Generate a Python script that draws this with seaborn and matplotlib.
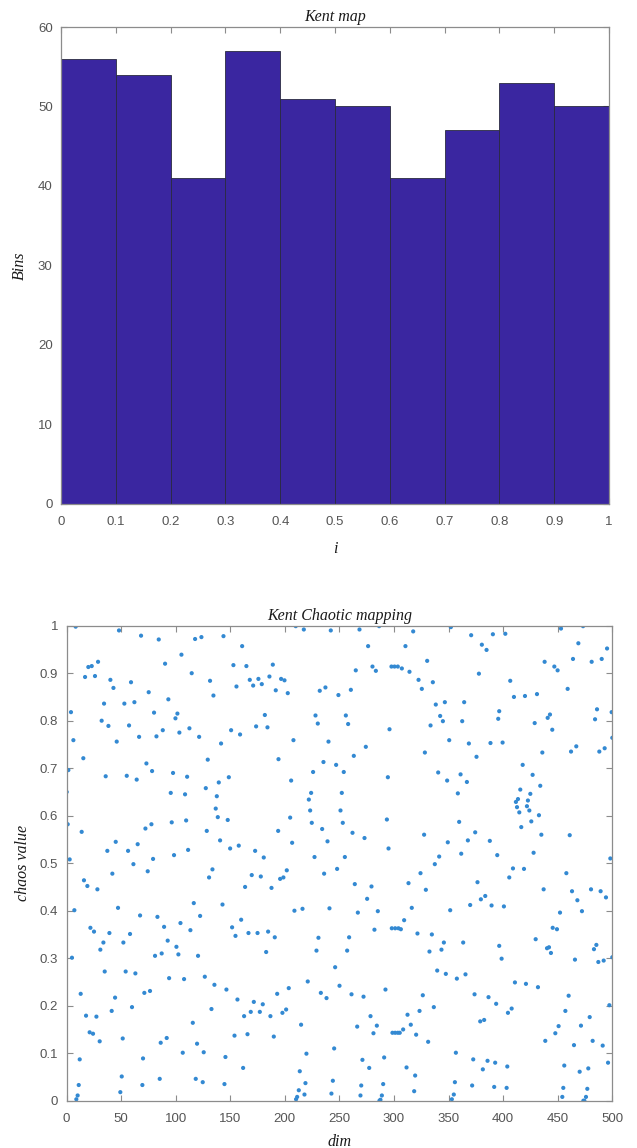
import matplotlib
matplotlib.use("Agg")
import matplotlib.pyplot as plt
import seaborn as sns
import numpy as np
import pandas as pd

# ---------------- data ----------------
bin_edges = [0, 0.1, 0.2, 0.3, 0.4, 0.5, 0.6, 0.7, 0.8, 0.9, 1.0]
bin_counts = [56, 54, 41, 57, 51, 50, 41, 47, 53, 50]

# scatter points (dim, chaos value), grouped by region
dim_a = [8.4, 48.1, 68.3, 84.5, 90.3, 20.0, 23.1, 28.9, 17.0, 26.1, 40.2, 59.1, 43.0, 75.3, 93.3, 34.4, 53.0, 62.2,
         4.1, 80.2, 32.2, 38.4, 57.3, 88.2, 82.4, 66.5, 6.3, 46.0, 15.4, 1.7, 73.2, 78.4, 35.9, 55.2, 64.3, 0.2, 1.1,
         13.9, 72.3, 77.8, 45.1, 65.2, 37.4, 56.4, 2.9, 61.3, 79.3]
val_a = [0.998, 0.990, 0.979, 0.971, 0.920, 0.913, 0.915, 0.924, 0.892, 0.894, 0.886, 0.881, 0.869, 0.860, 0.845,
         0.836, 0.836, 0.839, 0.818, 0.817, 0.800, 0.789, 0.790, 0.780, 0.767, 0.766, 0.759, 0.756, 0.721, 0.696,
         0.710, 0.694, 0.683, 0.684, 0.676, 0.650, 0.582, 0.566, 0.573, 0.582, 0.545, 0.540, 0.526, 0.526, 0.508,
         0.498, 0.509]

dim_b = [117.8, 123.6, 143.8, 160.9, 105.3, 152.9, 164.8, 189.0, 114.7, 131.5, 167.9, 175.8, 185.9, 171.0, 178.9,
         155.7, 191.7, 134.6, 101.6, 99.8, 181.7, 103.4, 112.6, 121.5, 150.8, 159.0, 173.7, 184.1, 141.6, 129.4,
         194.2, 97.6, 110.5, 139.5, 148.7, 95.5, 108.6, 127.6, 137.7, 136.7, 138.6, 147.7, 96.4, 109.6, 128.5, 193.9,
         140.7, 149.9, 157.8, 172.8, 180.7, 98.5, 111.4]
val_b = [0.972, 0.976, 0.978, 0.957, 0.939, 0.917, 0.915, 0.918, 0.900, 0.884, 0.886, 0.888, 0.893, 0.874, 0.877,
         0.872, 0.864, 0.853, 0.815, 0.805, 0.812, 0.775, 0.784, 0.766, 0.780, 0.771, 0.788, 0.786, 0.752, 0.718,
         0.719, 0.690, 0.682, 0.670, 0.681, 0.648, 0.645, 0.658, 0.641, 0.615, 0.597, 0.591, 0.586, 0.590, 0.568,
         0.568, 0.548, 0.531, 0.537, 0.526, 0.512, 0.517, 0.528]

dim_c = [210.0, 217.4, 242.1, 268.4, 286.4, 276.3, 265.0, 280.3, 283.4, 196.6, 199.7, 202.7, 232.0, 237.2, 249.1,
         260.5, 228.1, 255.9, 230.2, 258.0, 295.9, 207.9, 240.0, 274.2, 263.2, 235.4, 247.0, 225.9, 254.0, 205.8,
         294.4, 224.1, 252.2, 222.0, 223.2, 251.0, 204.9, 224.7, 253.1, 293.5, 234.2, 262.0, 273.0, 206.7, 239.1,
         295.0, 227.2, 255.0]
val_c = [0.999, 0.992, 0.990, 0.992, 0.999, 0.957, 0.906, 0.914, 0.905, 0.888, 0.885, 0.858, 0.863, 0.870, 0.854,
         0.865, 0.811, 0.811, 0.794, 0.793, 0.782, 0.759, 0.756, 0.745, 0.726, 0.713, 0.707, 0.692, 0.692, 0.674,
         0.681, 0.648, 0.648, 0.634, 0.611, 0.611, 0.596, 0.585, 0.585, 0.592, 0.572, 0.564, 0.553, 0.543, 0.546,
         0.531, 0.513, 0.513]

dim_d = [317.6, 352.1, 370.7, 390.6, 310.5, 380.5, 384.8, 330.4, 297.7, 300.5, 303.5, 307.2, 314.2, 377.8, 322.5,
         335.6, 325.5, 338.3, 346.6, 364.3, 396.4, 342.3, 344.8, 362.5, 395.5, 333.5, 350.6, 368.6, 388.4, 328.3,
         375.6, 340.5, 348.7, 361.0, 366.8, 358.5, 359.7, 327.6, 374.4, 349.3, 367.7, 387.8, 341.4, 361.6, 394.6]
val_d = [0.988, 0.997, 0.980, 0.982, 0.957, 0.960, 0.949, 0.926, 0.914, 0.914, 0.914, 0.910, 0.903, 0.899, 0.886,
         0.881, 0.867, 0.834, 0.839, 0.839, 0.820, 0.810, 0.799, 0.799, 0.804, 0.790, 0.759, 0.752, 0.753, 0.733,
         0.724, 0.691, 0.674, 0.687, 0.671, 0.647, 0.587, 0.560, 0.565, 0.544, 0.548, 0.547, 0.514, 0.520, 0.517]

dim_e = [402.0, 453.0, 473.2, 468.9, 495.2, 438.0, 446.9, 449.9, 464.0, 481.1, 490.3, 406.5, 459.1, 409.9, 420.0,
         431.0, 442.9, 440.8, 428.9, 445.0, 486.0, 484.2, 499.4, 500.0, 399.5, 435.9, 462.2, 467.0, 488.1, 493.0,
         417.9, 427.0, 434.0, 415.7, 424.9, 413.6, 411.7, 422.7, 412.7, 421.8, 424.0, 414.8, 432.8, 425.8, 416.6,
         435.0, 461.0, 427.9, 498.2]
val_e = [0.983, 0.994, 0.999, 0.963, 0.952, 0.924, 0.914, 0.906, 0.930, 0.924, 0.930, 0.884, 0.867, 0.850, 0.852,
         0.856, 0.813, 0.806, 0.795, 0.781, 0.824, 0.803, 0.818, 0.764, 0.754, 0.733, 0.735, 0.746, 0.735, 0.742,
         0.707, 0.686, 0.663, 0.655, 0.646, 0.635, 0.629, 0.632, 0.618, 0.620, 0.611, 0.607, 0.601, 0.588, 0.576,
         0.560, 0.559, 0.522, 0.510]

dim_f = [42.0, 74.4, 16.0, 19.1, 28.3, 7.2, 47.2, 67.4, 83.3, 21.9, 25.2, 39.3, 58.2, 89.4, 33.8, 52.1, 92.7, 31.0,
         5.0, 81.1, 87.2, 35.0, 54.2, 63.1, 94.0, 13.0, 71.3, 76.5, 44.5, 17.9, 27.4, 41.4, 60.0, 21.2, 24.3, 30.4,
         51.5, 86.3, 91.8, 12.1, 70.1, 50.6, 85.4, 11.2, 69.5, 10.2, 9.0, 49.3]
val_f = [0.478, 0.483, 0.464, 0.452, 0.445, 0.401, 0.406, 0.390, 0.387, 0.364, 0.356, 0.353, 0.351, 0.366, 0.333,
         0.333, 0.337, 0.318, 0.301, 0.305, 0.310, 0.272, 0.272, 0.268, 0.258, 0.225, 0.227, 0.231, 0.217, 0.179,
         0.177, 0.189, 0.197, 0.144, 0.141, 0.125, 0.131, 0.122, 0.132, 0.087, 0.089, 0.051, 0.046, 0.033, 0.033,
         0.011, 0.003, 0.018]

dim_g = [133.7, 130.6, 169.7, 178.0, 163.6, 187.8, 116.6, 142.9, 104.4, 122.4, 113.5, 160.0, 151.7, 154.8, 166.7,
         175.0, 184.7, 190.8, 100.7, 102.5, 120.5, 182.9, 107.7, 126.7, 135.5, 146.5, 156.6, 171.6, 179.8, 168.8,
         177.1, 162.7, 186.8, 193.0, 132.8, 115.7, 153.9, 165.8, 189.9, 119.6, 106.5, 125.7, 145.6, 161.8, 118.4,
         124.8, 144.7]
val_g = [0.487, 0.470, 0.475, 0.472, 0.450, 0.448, 0.416, 0.413, 0.374, 0.389, 0.359, 0.381, 0.365, 0.347, 0.353,
         0.353, 0.356, 0.344, 0.324, 0.308, 0.305, 0.313, 0.256, 0.261, 0.244, 0.234, 0.213, 0.208, 0.203, 0.187,
         0.187, 0.178, 0.178, 0.225, 0.193, 0.164, 0.137, 0.140, 0.135, 0.120, 0.101, 0.102, 0.092, 0.069, 0.046,
         0.039, 0.035]

dim_h = [201.8, 195.7, 198.7, 236.0, 247.9, 264.1, 279.4, 275.4, 208.8, 216.2, 240.9, 266.9, 285.2, 282.1, 230.8,
         258.9, 229.0, 257.1, 246.1, 221.0, 203.6, 233.0, 238.2, 250.1, 261.1, 272.1, 292.2, 197.8, 201.2, 214.9,
         278.5, 266.3, 284.3, 281.2, 219.8, 245.2, 271.1, 291.0, 213.7, 277.3, 218.9, 244.0, 212.8, 211.3, 210.3,
         218.0, 242.7, 270.0, 269.3, 290.1, 288.9, 287.6, 286.7]
val_h = [0.485, 0.467, 0.470, 0.478, 0.488, 0.456, 0.451, 0.425, 0.400, 0.404, 0.405, 0.396, 0.399, 0.360, 0.343,
         0.344, 0.316, 0.316, 0.281, 0.251, 0.237, 0.227, 0.216, 0.242, 0.224, 0.219, 0.234, 0.185, 0.192, 0.160,
         0.178, 0.156, 0.158, 0.142, 0.099, 0.110, 0.086, 0.091, 0.062, 0.069, 0.037, 0.042, 0.022, 0.008, 0.003,
         0.013, 0.015, 0.032, 0.011, 0.035, 0.011, 0.002, 0.000]

dim_i = [337.4, 324.3, 313.3, 329.2, 376.5, 379.6, 383.6, 389.4, 369.8, 351.5, 316.3, 309.3, 298.0, 301.1, 304.1,
         306.3, 321.5, 334.7, 345.7, 363.4, 332.5, 343.5, 396.4, 339.6, 347.5, 357.6, 365.5, 326.4, 336.5, 373.8,
         386.6, 393.6, 312.4, 323.4, 315.4, 298.6, 301.1, 303.5, 305.3, 308.4, 320.3, 331.3, 379.0, 382.6, 356.7,
         311.5, 319.4, 372.6, 385.7, 392.7, 381.4, 355.8, 371.6, 391.8, 318.5, 354.8, 353.0]
val_i = [0.498, 0.479, 0.458, 0.444, 0.460, 0.424, 0.431, 0.411, 0.412, 0.401, 0.406, 0.380, 0.363, 0.363, 0.363,
         0.361, 0.352, 0.350, 0.333, 0.333, 0.314, 0.318, 0.326, 0.274, 0.267, 0.257, 0.266, 0.222, 0.197, 0.224,
         0.218, 0.204, 0.181, 0.189, 0.160, 0.143, 0.143, 0.143, 0.143, 0.150, 0.139, 0.124, 0.167, 0.170, 0.101,
         0.070, 0.053, 0.087, 0.084, 0.080, 0.066, 0.039, 0.032, 0.029, 0.020, 0.013, 0.003]

dim_j = [409.0, 419.1, 405.6, 457.9, 437.1, 463.1, 480.5, 489.3, 494.2, 468.0, 472.2, 452.1, 400.7, 445.4, 449.3,
         429.8, 440.2, 442.0, 443.8, 485.4, 483.2, 398.6, 465.8, 487.2, 492.1, 500.0, 410.8, 420.9, 431.9, 460.0,
         404.4, 407.8, 457.0, 497.3, 479.3, 450.8, 447.8, 471.3, 438.6, 464.9, 482.0, 491.2, 403.8, 456.0, 470.1,
         478.0, 496.1, 403.2, 455.1, 477.1, 454.2, 475.9, 474.4, 473.5]
val_j = [0.489, 0.488, 0.470, 0.479, 0.445, 0.441, 0.445, 0.441, 0.428, 0.422, 0.399, 0.396, 0.409, 0.364, 0.361,
         0.340, 0.321, 0.323, 0.311, 0.328, 0.319, 0.299, 0.297, 0.292, 0.295, 0.302, 0.249, 0.246, 0.239, 0.221,
         0.185, 0.194, 0.189, 0.201, 0.176, 0.157, 0.142, 0.158, 0.126, 0.117, 0.126, 0.116, 0.072, 0.074, 0.061,
         0.068, 0.080, 0.027, 0.027, 0.025, 0.008, 0.008, 0.000, 0.000]

dims = dim_a + dim_b + dim_c + dim_d + dim_e + dim_f + dim_g + dim_h + dim_i + dim_j
chaos = val_a + val_b + val_c + val_d + val_e + val_f + val_g + val_h + val_i + val_j

hist_xticks = [0, 0.1, 0.2, 0.3, 0.4, 0.5, 0.6, 0.7, 0.8, 0.9, 1]
hist_xticklabels = ["0", "0.1", "0.2", "0.3", "0.4", "0.5", "0.6", "0.7", "0.8", "0.9", "1"]
hist_yticks = [0, 10, 20, 30, 40, 50, 60]
sc_xticks = [0, 50, 100, 150, 200, 250, 300, 350, 400, 450, 500]
sc_yticks = [0, 0.1, 0.2, 0.3, 0.4, 0.5, 0.6, 0.7, 0.8, 0.9, 1]
sc_yticklabels = ["0", "0.1", "0.2", "0.3", "0.4", "0.5", "0.6", "0.7", "0.8", "0.9", "1"]

# ---------------- style ----------------
sns.set_theme(style="white")
plt.rcParams['font.family'] = ['Liberation Sans', 'DejaVu Sans']

W, H = 637, 1148
fig = plt.figure(figsize=(W / 100, H / 100), dpi=100)

ax1 = fig.add_axes([61 / W, 1 - 504 / H, 548 / W, 477 / H])
ax2 = fig.add_axes([66.5 / W, 1 - 1100.7 / H, 545.8 / W, 475 / H])

# ---- histogram ----
centers = [(bin_edges[k] + bin_edges[k + 1]) / 2 for k in range(len(bin_counts))]
hdf = pd.DataFrame({"i": centers, "count": bin_counts})
sns.histplot(data=hdf, x="i", weights="count", bins=bin_edges, ax=ax1,
             color="#3a26a0", alpha=1.0, edgecolor="#2a2a40", linewidth=0.6)

# ---- scatter ----
sdf = pd.DataFrame({"dim": dims, "chaos value": chaos})
sns.scatterplot(data=sdf, x="dim", y="chaos value", ax=ax2, s=9, color="#3389d2",
                linewidth=0, edgecolor="none")

serif = ['Liberation Serif', 'DejaVu Serif']
tick_color = "#555555"
spine_color = "#8c8c8c"
lab_color = "#1a1a1a"

for ax in (ax1, ax2):
    for sp in ax.spines.values():
        sp.set_visible(True)
        sp.set_color(spine_color)
        sp.set_linewidth(0.9)
    ax.tick_params(axis="both", direction="in", length=4, width=0.8, color=spine_color,
                   labelcolor=tick_color, labelsize=9.5, top=True, right=True,
                   bottom=True, left=True)
    ax.tick_params(axis="x", pad=9)
    ax.tick_params(axis="y", pad=6)
    ax.grid(False)
    ax.set_facecolor("white")

ax1.set_xlim(0, 1)
ax1.set_ylim(0, 60)
ax1.set_xticks(hist_xticks)
ax1.set_xticklabels(hist_xticklabels)
ax1.set_yticks(hist_yticks)
ax1.set_title("Kent map", fontfamily=serif, fontstyle="italic", fontsize=11.5, pad=4, color=lab_color)
ax1.set_xlabel("i", fontfamily=serif, fontstyle="italic", fontsize=11.5, labelpad=9, color=lab_color)
ax1.set_ylabel("Bins", fontfamily=serif, fontstyle="italic", fontsize=11.5, labelpad=7, color=lab_color)

ax2.set_xlim(0, 500)
ax2.set_ylim(0, 1)
ax2.set_xticks(sc_xticks)
ax2.set_yticks(sc_yticks)
ax2.set_yticklabels(sc_yticklabels)
ax2.set_title("Kent Chaotic mapping", fontfamily=serif, fontstyle="italic", fontsize=11.5, pad=4, color=lab_color)
ax2.set_xlabel("dim", fontfamily=serif, fontstyle="italic", fontsize=11.5, labelpad=6, color=lab_color)
ax2.set_ylabel("chaos value", fontfamily=serif, fontstyle="italic", fontsize=11.5, labelpad=6, color=lab_color)

fig.savefig("out.png", dpi=100, facecolor="white")
